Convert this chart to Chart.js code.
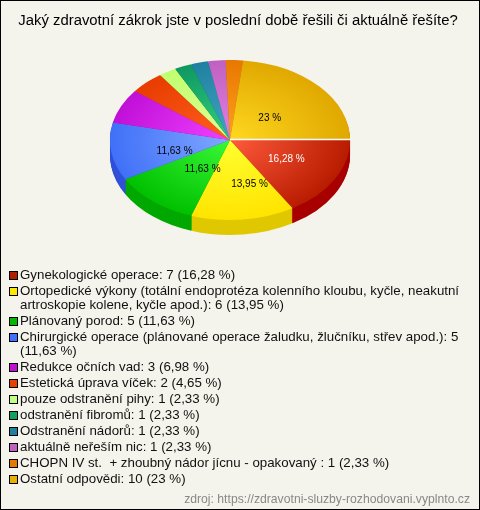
<!DOCTYPE html>
<html>
<head>
<meta charset="utf-8">
<script src="https://cdn.jsdelivr.net/npm/chart.js@4/dist/chart.umd.min.js"></script>
<style>
    html, body { margin: 0; padding: 0; background: #f5f4ec; }
    #box { position: relative; width: 480px; height: 510px; box-sizing: border-box; border: 1px solid #000; background: #f5f4ec; overflow: hidden; font-family: "Liberation Sans", Arial, sans-serif; }
    #myChart { position: absolute; left: -3px; top: -1px; }
    #legend { position: absolute; left: 8px; top: 267px; width: 456px; font-size: 13.3px; line-height: 14px; color: #111; }
    #legend div { position: relative; padding-left: 11px; margin-bottom: 2px; white-space: pre-wrap; }
    #legend i { position: absolute; left: 0; top: 3px; width: 7px; height: 7px; border: 1px solid #000; }
    #source { position: absolute; right: 9px; top: 491px; font-size: 12.2px; color: #888; }
</style>
</head>
<body>
<div id="box">
    <canvas id="myChart" width="480" height="510"></canvas>
    <div id="legend"></div>
    <div id="source">zdroj: https://zdravotni-sluzby-rozhodovani.vyplnto.cz</div>
</div>
<script>
const title = 'Jaký zdravotní zákrok jste v poslední době řešili či aktuálně řešíte?';
const categories = [
    'Gynekologické operace',
    'Ortopedické výkony (totální endoprotéza kolenního kloubu, kyčle, neakutní artroskopie kolene, kyčle apod.)',
    'Plánovaný porod',
    'Chirurgické operace (plánované operace žaludku, žlučníku, střev apod.)',
    'Redukce očních vad',
    'Estetická úprava víček',
    'pouze odstranění pihy',
    'odstranění fibromů',
    'Odstranění nádorů',
    'aktuálně neřeším nic',
    'CHOPN IV st.  + zhoubný nádor jícnu - opakovaný ',
    'Ostatní odpovědi'
];
const counts = [7, 6, 5, 5, 3, 2, 1, 1, 1, 1, 1, 10];
const percents = ['16,28 %', '13,95 %', '11,63 %', '11,63 %', '6,98 %', '4,65 %', '2,33 %', '2,33 %', '2,33 %', '2,33 %', '2,33 %', '23 %'];
const sliceLabels = ['16,28 %', '13,95 %', '11,63 %', '11,63 %', '', '', '', '', '', '', '', '23 %'];

const swatchColors = ['#b02000', '#ffe800', '#00b800', '#4070ff', '#c010d0', '#e84000', '#c0ff80', '#10a060', '#2080a0', '#c060c0', '#e87800', '#e8b000'];
const innerColors = ['#ff5a3c', '#ffff30', '#38f838', '#80a8ff', '#f040ff', '#ff6020', '#e0ff90', '#30d080', '#40a8c0', '#e080e0', '#ffa020', '#ffd820'];
const outerColors = ['#b81c00', '#ffe400', '#00c000', '#4070f8', '#c010d8', '#e83c00', '#c0ff70', '#109860', '#2080a0', '#c060c0', '#e87800', '#e0a800'];
const sideColors = ['#a80000', '#e0c800', '#00a800', '#3050d8', '#9010a0', '#b03000', '#90c060', '#087040', '#186078', '#904890', '#b05a00', '#b08400'];
// label nudges, the original does not sit exactly on the slice middle
const labelNudge = [[4, 0], [13, 4], [11, -2], [4, 5], [0, 0], [0, 0], [0, 0], [0, 0], [0, 0], [0, 0], [0, 0], [-5, 5]];

// pie centre on the canvas, canvas sits 2px left of the box edge
const pieX = 232;
const pieY = 140;
const squash = 2 / 3;
const depth = 15;

function applySquash(ctx, arc, dy) {
    ctx.translate(pieX, pieY + dy);
    ctx.scale(1, squash);
    ctx.translate(-arc.x, -arc.y);
}

const pie3d = {
    id: 'pie3d',
    beforeDatasetsDraw(chart) {
        const ctx = chart.ctx;
        const arcs = chart.getDatasetMeta(0).data;
        for (let d = depth; d >= 1; d--) {
            ctx.save();
            applySquash(ctx, arcs[0], d);
            arcs.forEach((arc, i) => {
                const opts = arc.options;
                arc.options = { ...opts, backgroundColor: sideColors[i] };
                arc.draw(ctx);
                arc.options = opts;
            });
            ctx.restore();
        }
        ctx.save();
        applySquash(ctx, arcs[0], 0);
    },
    afterDatasetsDraw(chart) {
        const ctx = chart.ctx;
        ctx.restore();
        const arcs = chart.getDatasetMeta(0).data;

        // white gap between the last slice and the first one
        const r = arcs[0].outerRadius;
        ctx.strokeStyle = '#fff';
        ctx.lineWidth = 1.5;
        ctx.beginPath();
        ctx.moveTo(pieX, pieY - 0.5);
        ctx.lineTo(pieX + r, pieY - 0.5);
        ctx.stroke();

        ctx.font = '10px "Liberation Sans", Arial, sans-serif';
        ctx.textAlign = 'center';
        ctx.textBaseline = 'middle';
        arcs.forEach((arc, i) => {
            if (!sliceLabels[i]) return;
            const mid = (arc.startAngle + arc.endAngle) / 2;
            const x = pieX + Math.cos(mid) * arc.outerRadius * 0.5 + labelNudge[i][0];
            const y = pieY + Math.sin(mid) * arc.outerRadius * 0.5 * squash + labelNudge[i][1];
            ctx.fillStyle = i === 0 ? '#fff' : '#000';
            ctx.fillText(sliceLabels[i], x, y);
        });
    }
};

function sliceFill(c) {
    const area = c.chart.chartArea;
    if (!area || c.dataIndex === undefined) return swatchColors[c.dataIndex || 0];
    const cx = (area.left + area.right) / 2;
    const cy = (area.top + area.bottom) / 2;
    const g = c.chart.ctx.createRadialGradient(cx, cy, 0, cx, cy, 120);
    g.addColorStop(0, innerColors[c.dataIndex]);
    g.addColorStop(1, outerColors[c.dataIndex]);
    return g;
}

let graphData = {
    type: 'pie',
    data: {
        labels: categories,
        datasets: [{
            data: counts,
            backgroundColor: sliceFill,
            borderWidth: 0
        }]
    },
    options: {
        responsive: false,
        animation: false,
        rotation: 90,
        layout: { padding: { bottom: 234 } },
        plugins: {
            legend: { display: false },
            tooltip: { enabled: false },
            title: {
                display: true,
                text: title,
                color: '#000',
                font: { family: '"Liberation Sans", Arial, sans-serif', size: 14.86, weight: 'normal' },
                padding: { top: 12, bottom: 6 }
            }
        }
    },
    plugins: [pie3d]
};

new Chart(document.getElementById('myChart'), graphData);

const legendBox = document.getElementById('legend');
categories.forEach((name, i) => {
    const row = document.createElement('div');
    const mark = document.createElement('i');
    mark.style.background = swatchColors[i];
    row.appendChild(mark);
    row.appendChild(document.createTextNode(name + ': ' + counts[i] + ' (' + percents[i] + ')'));
    legendBox.appendChild(row);
});
</script>
</body>
</html>
